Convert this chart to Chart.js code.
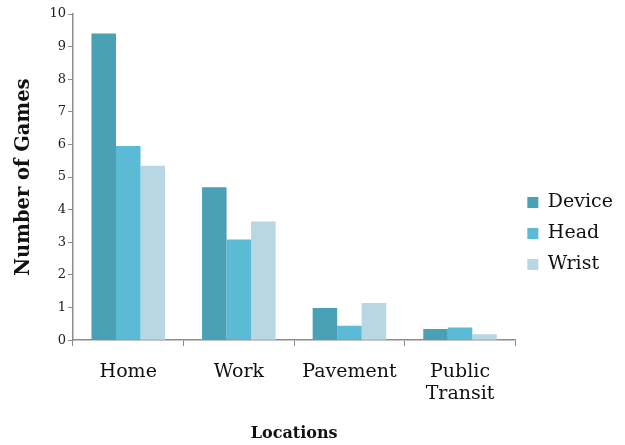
<!DOCTYPE html>
<html>
<head>
<meta charset="utf-8">
<script src="https://cdn.jsdelivr.net/npm/chart.js@4/dist/chart.umd.min.js"></script>
<style>
  html, body { margin: 0; padding: 0; background: #ffffff; }
  #wrap { width: 625px; height: 445px; }
</style>
</head>
<body>
<div id="wrap"><canvas id="chart"></canvas></div>
<script>
const locations = ["Home", "Work", "Pavement", ["Public", "Transit"]];
const deviceGames = [9.4, 4.69, 0.99, 0.34];
const headGames = [5.95, 3.09, 0.44, 0.39];
const wristGames = [5.35, 3.64, 1.14, 0.18];

const serif = "'DejaVu Serif', 'Liberation Serif', serif";
const axisGray = "#8c8c8c";

const ctx = document.getElementById("chart").getContext("2d");

new Chart(ctx, {
  type: "bar",
  data: {
    labels: locations,
    datasets: [
      { label: "Device", data: deviceGames, backgroundColor: "#4aa0b5" },
      { label: "Head", data: headGames, backgroundColor: "#5bbad4" },
      { label: "Wrist", data: wristGames, backgroundColor: "#b6d7e3" },
    ],
  },
  options: {
    responsive: true,
    maintainAspectRatio: false,
    animation: false,
    datasets: {
      bar: {
        barPercentage: 1,
        categoryPercentage: 0.665,
        borderWidth: 0,
      },
    },
    layout: {
      padding: { top: 14, right: 2, bottom: 0, left: 12 },
    },
    scales: {
      x: {
        grid: {
          display: true,
          offset: true,
          drawOnChartArea: false,
          color: axisGray,
          tickLength: 6,
        },
        border: { color: axisGray, width: 1.5 },
        ticks: {
          color: "#111",
          font: { family: serif, size: 19 },
          padding: 14,
          maxRotation: 0,
        },
        title: {
          display: true,
          text: "Locations",
          color: "#111",
          font: { family: serif, size: 16, weight: "bold" },
          padding: { top: 4, bottom: 2 },
        },
      },
      y: {
        min: 0,
        max: 10,
        ticks: {
          stepSize: 1,
          color: "#222",
          font: { family: serif, size: 13 },
          padding: 2,
        },
        grid: {
          display: true,
          drawOnChartArea: false,
          color: axisGray,
          tickLength: 5,
        },
        border: { color: axisGray, width: 1.5 },
        title: {
          display: true,
          text: "Number of Games",
          color: "#111",
          font: { family: serif, size: 19.5, weight: "bold" },
          padding: { top: 0, bottom: 12 },
        },
      },
    },
    plugins: {
      legend: {
        position: "right",
        align: "center",
        title: {
          // blank title just nudges the legend items down a little
          display: true,
          text: " ",
          font: { size: 5 },
          padding: 1,
        },
        labels: {
          boxWidth: 11,
          boxHeight: 11,
          padding: 12,
          color: "#111",
          font: { family: serif, size: 19 },
        },
      },
      tooltip: { enabled: false },
    },
  },
});
</script>
</body>
</html>
